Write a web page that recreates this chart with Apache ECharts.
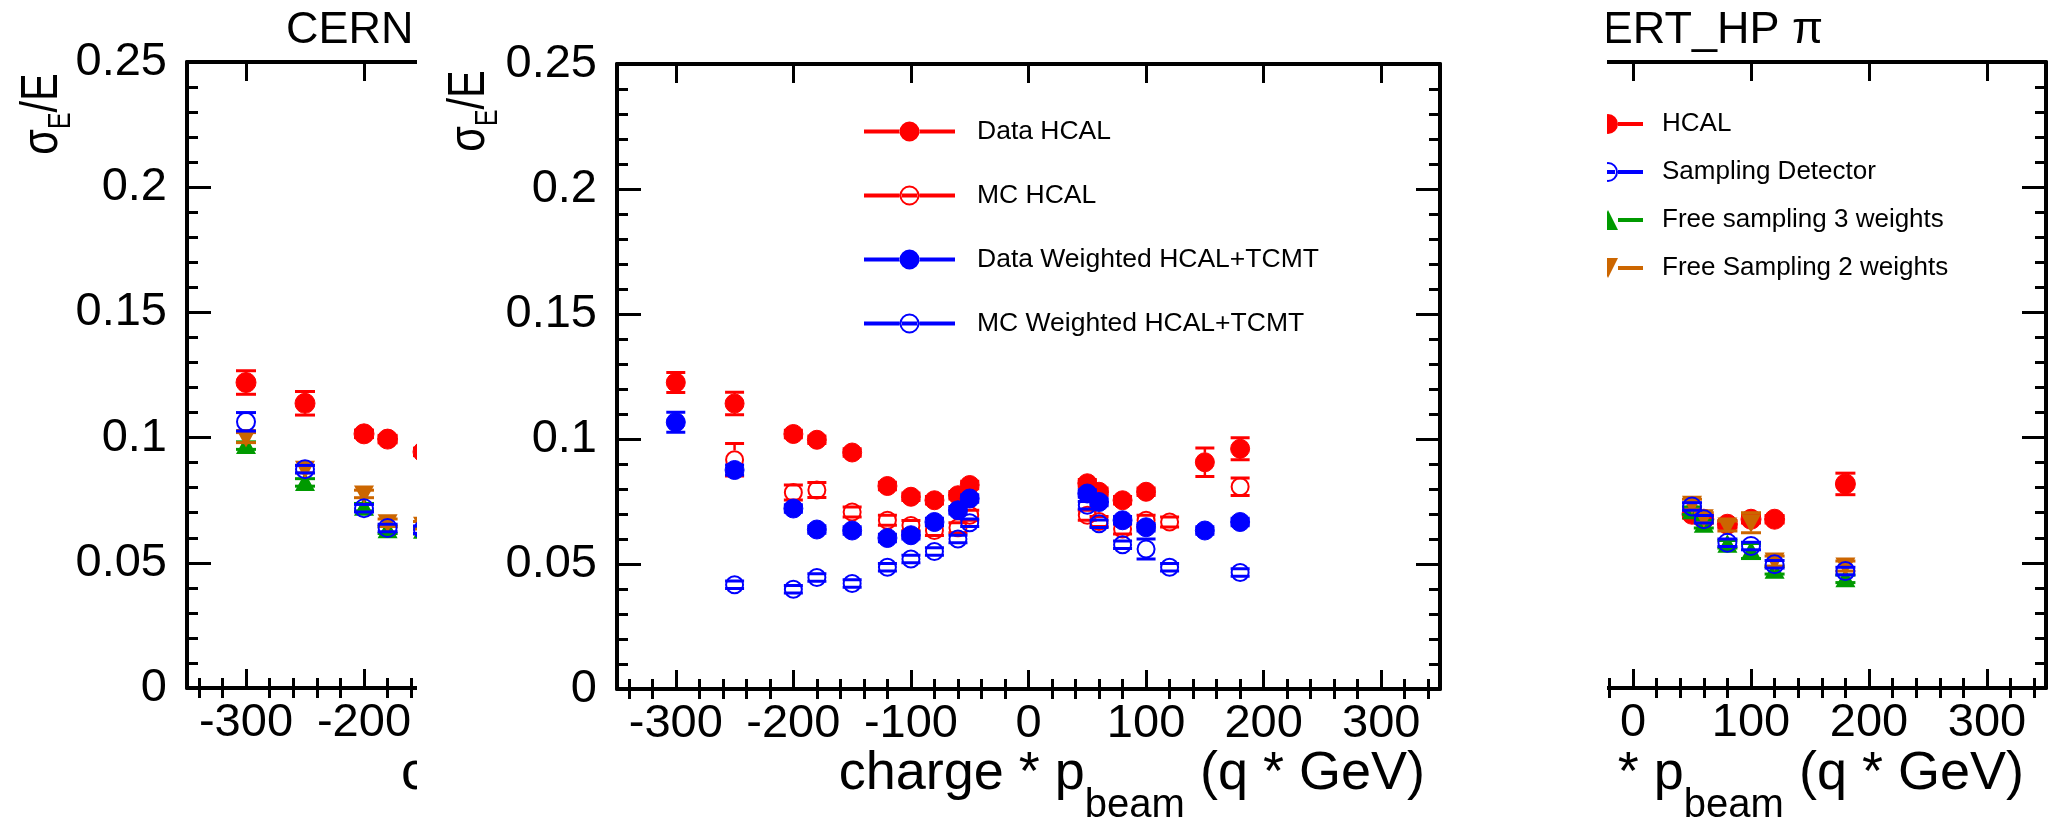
<!DOCTYPE html>
<html>
<head>
<meta charset="utf-8">
<script src="https://cdn.jsdelivr.net/npm/echarts@6/dist/echarts.min.js"></script>
<style>
  html, body { margin: 0; padding: 0; background: #fff; }
  #chart { width: 2054px; height: 823px; }
</style>
</head>
<body>
<div id="chart"></div>
<script>
// Energy resolution sigma_E/E versus signed beam momentum.

// ---- axes ----
const xRange = [-350, 350];
const xMajorTicks = [-300, -200, -100, 0, 100, 200, 300];
const xMinorTicks = [-340, -320, -280, -260, -240, -220, -180, -160, -140, -120, -80, -60, -40, -20,
                     20, 40, 60, 80, 120, 140, 160, 180, 220, 240, 260, 280, 320, 340];
const yRange = [0, 0.25];
const yStep = 0.05;

const panelTitle = 'CERN FTFP_BERT_HP π';

// ---- pi- panel (left): [charge*p, sigma/E, error] ----
const leftHcal     = [[-300, 0.1220, 0.0047], [-250, 0.1137, 0.0047], [-200, 0.1015, 0.0015], [-180, 0.0994, 0.0015], [-150, 0.0943, 0.0015]];
const leftSampling = [[-300, 0.1063, 0.0037], [-250, 0.0874, 0.0015], [-200, 0.0718, 0.0015], [-180, 0.0639, 0.0015], [-150, 0.0632, 0.0015]];
const leftFree3    = [[-300, 0.0968, 0.0015], [-250, 0.0821, 0.0015], [-200, 0.0722, 0.0015], [-180, 0.0632, 0.0015], [-150, 0.0630, 0.0015]];
const leftFree2    = [[-300, 0.1000, 0.0020], [-250, 0.0874, 0.0015], [-200, 0.0775, 0.0015], [-180, 0.0660, 0.0015], [-150, 0.0650, 0.0015]];

// ---- pi+ panel (right) ----
const rightHcal     = [[50, 0.0694, 0.0015], [60, 0.0674, 0.0015], [80, 0.0654, 0.0015], [100, 0.0674, 0.0015], [120, 0.0674, 0.0015], [180, 0.0815, 0.0043]];
const rightSampling = [[50, 0.0725, 0.0015], [60, 0.0674, 0.0015], [80, 0.0580, 0.0015], [100, 0.0567, 0.0015], [120, 0.0494, 0.0015], [180, 0.0467, 0.0015]];
const rightFree3    = [[50, 0.0708, 0.0015], [60, 0.0654, 0.0015], [80, 0.0574, 0.0015], [100, 0.0547, 0.0030], [120, 0.0470, 0.0015], [180, 0.0436, 0.0015]];
const rightFree2    = [[50, 0.0734, 0.0020], [60, 0.0680, 0.0020], [80, 0.0647, 0.0020], [100, 0.0660, 0.0040], [120, 0.0507, 0.0020], [180, 0.0487, 0.0020]];

// ---- HCAL / HCAL+TCMT comparison panel ----
const midDataHcal = [[-300, 0.1226, 0.0040], [-250, 0.1142, 0.0045], [-200, 0.1020, 0.0015], [-180, 0.0997, 0.0015],
                     [-150, 0.0946, 0.0015], [-120, 0.0812, 0.0015], [-100, 0.0769, 0.0015], [-80, 0.0755, 0.0015],
                     [-60, 0.0775, 0.0015], [-50, 0.0816, 0.0015], [50, 0.0823, 0.0015], [60, 0.0789, 0.0015],
                     [80, 0.0755, 0.0015], [100, 0.0789, 0.0015], [150, 0.0907, 0.0057], [180, 0.0961, 0.0044]];
const midMcHcal   = [[-250, 0.0917, 0.0065], [-200, 0.0786, 0.0030], [-180, 0.0796, 0.0030], [-150, 0.0708, 0.0020],
                     [-120, 0.0675, 0.0020], [-100, 0.0654, 0.0020], [-80, 0.0634, 0.0020], [-60, 0.0645, 0.0020],
                     [-50, 0.0695, 0.0020], [50, 0.0695, 0.0020], [60, 0.0670, 0.0020], [80, 0.0640, 0.0020],
                     [100, 0.0675, 0.0020], [120, 0.0668, 0.0020], [180, 0.0809, 0.0035]];
const midDataWeighted = [[-300, 0.1067, 0.0040], [-250, 0.0876, 0.0020], [-200, 0.0722, 0.0015], [-180, 0.0638, 0.0015],
                         [-150, 0.0634, 0.0015], [-120, 0.0604, 0.0015], [-100, 0.0615, 0.0015], [-80, 0.0668, 0.0015],
                         [-60, 0.0715, 0.0015], [-50, 0.0762, 0.0015], [50, 0.0782, 0.0015], [60, 0.0748, 0.0015],
                         [80, 0.0675, 0.0015], [100, 0.0647, 0.0015], [150, 0.0634, 0.0015], [180, 0.0668, 0.0015]];
const midMcWeighted   = [[-250, 0.0417, 0.0015], [-200, 0.0399, 0.0015], [-180, 0.0446, 0.0015], [-150, 0.0422, 0.0015],
                         [-120, 0.0487, 0.0015], [-100, 0.0520, 0.0015], [-80, 0.0550, 0.0015], [-60, 0.0600, 0.0015],
                         [-50, 0.0665, 0.0015], [50, 0.0735, 0.0015], [60, 0.0661, 0.0015], [80, 0.0577, 0.0015],
                         [100, 0.0560, 0.0040], [120, 0.0487, 0.0015], [180, 0.0466, 0.0015]];

const RED = '#ff0000', BLUE = '#0000ff', GREEN = '#009a00', ORANGE = '#cc6600';
const fontFamily = '"Liberation Sans", Arial, Helvetica, sans-serif';

// ---- marker + error bar drawing (ROOT style) ----
function markerShape(shape, cx, cy, r, color) {
  if (shape === 'disc') {
    return { type: 'circle', shape: { cx, cy, r }, style: { fill: color, stroke: color, lineWidth: 1 } };
  }
  if (shape === 'ring') {
    return { type: 'circle', shape: { cx, cy, r: r - 1 }, style: { fill: 'none', stroke: color, lineWidth: 2 } };
  }
  const h = r * 0.85;
  const pts = shape === 'up'
    ? [[cx - r, cy + h], [cx + r, cy + h], [cx, cy - r]]
    : [[cx - r, cy - h], [cx + r, cy - h], [cx, cy + r]];
  return { type: 'polygon', shape: { points: pts }, style: { fill: color } };
}

function errorMarkerRenderer(shape, color, r) {
  return function (params, api) {
    const x = api.value(0), y = api.value(1), e = api.value(2);
    const c = api.coord([x, y]);
    const yt = api.coord([x, y + e])[1];
    const yb = api.coord([x, y - e])[1];
    const seg = (x1, y1, x2, y2, w) => ({ type: 'line', shape: { x1, y1, x2, y2 }, style: { stroke: color, lineWidth: w } });
    const children = [];
    if (c[1] - yt > r) children.push(seg(c[0], yt, c[0], c[1] - r, 2.5));
    if (yb - c[1] > r) children.push(seg(c[0], c[1] + r, c[0], yb, 2.5));
    children.push(seg(c[0] - r, yt, c[0] + r, yt, 3));
    children.push(seg(c[0] - r, yb, c[0] + r, yb, 3));
    children.push(markerShape(shape, c[0], c[1], r, color));
    return { type: 'group', children };
  };
}

function errSeries(name, data, shape, color, r, gridIdx, z) {
  return {
    type: 'custom', name, data,
    xAxisIndex: gridIdx * 4, yAxisIndex: gridIdx * 2,
    encode: { x: 0, y: 1 },
    itemStyle: { color },
    z, silent: true, clip: false,
    renderItem: errorMarkerRenderer(shape, color, r)
  };
}

// ---- axes: ticks on all four sides, pointing inward ----
const tickLine = { color: '#000', width: 3 };
const labelSize = 47;
function xAxesFor(gridIndex, z) {
  const base = { type: 'value', gridIndex, min: xRange[0], max: xRange[1], splitLine: { show: false }, z };
  const line = { show: true, onZero: false, lineStyle: { color: '#000', width: 4 } };
  const major = { show: true, inside: true, length: 19, customValues: xMajorTicks, lineStyle: tickLine };
  const minor = { show: true, inside: true, length: 10, customValues: xMinorTicks, lineStyle: tickLine };
  return [
    Object.assign({}, base, { position: 'bottom', axisLine: line, axisTick: major,
      axisLabel: { show: true, customValues: xMajorTicks, margin: 12, fontSize: labelSize, color: '#000', fontFamily } }),
    Object.assign({}, base, { position: 'bottom', axisLine: { show: false }, axisTick: minor, axisLabel: { show: false } }),
    Object.assign({}, base, { position: 'top', axisLine: line, axisTick: major, axisLabel: { show: false } }),
    Object.assign({}, base, { position: 'top', axisLine: { show: false }, axisTick: minor, axisLabel: { show: false } })
  ];
}
function yAxesFor(gridIndex, z) {
  const base = {
    type: 'value', gridIndex, min: yRange[0], max: yRange[1], interval: yStep, z,
    axisLine: { show: true, onZero: false, lineStyle: { color: '#000', width: 4 } },
    axisTick: { show: true, inside: true, length: 24, lineStyle: tickLine },
    minorTick: { show: true, splitNumber: 5, length: 11, lineStyle: tickLine },
    splitLine: { show: false }, minorSplitLine: { show: false }
  };
  return [
    Object.assign({}, base, { position: 'left',
      axisLabel: { margin: 20, fontSize: labelSize, color: '#000', fontFamily,
                   formatter: v => String(Math.round(v * 100) / 100) } }),
    Object.assign({}, base, { position: 'right', axisLabel: { show: false } })
  ];
}

// ---- legend icons: line with marker in the middle ----
const iconMid = {
  disc: 'path://M0,8H36V12H0Z M55,8H91V12H55Z M35.5,10A10,10,0,1,0,55.5,10A10,10,0,1,0,35.5,10Z',
  ring: 'path://M35.5,10A10,10,0,1,1,55.5,10A10,10,0,1,1,35.5,10Z M37.5,10A8,8,0,1,0,53.5,10A8,8,0,1,0,37.5,10Z M0,8H35.5V12H0Z M55.5,8H91V12H55.5Z M38,8H53V12H38Z'
};
const iconRight = {
  disc: 'path://M0,8H25V12H0Z M45,8H70V12H45Z M25,10A10,10,0,1,0,45,10A10,10,0,1,0,25,10Z',
  ring: 'path://M25,10A10,10,0,1,1,45,10A10,10,0,1,1,25,10Z M27,10A8,8,0,1,0,43,10A8,8,0,1,0,27,10Z M0,8H25V12H0Z M45,8H70V12H45Z M28,8H42V12H28Z',
  up: 'path://M0,8H25V12H0Z M45,8H70V12H45Z M25,20L45,20L35,0Z',
  down: 'path://M0,8H25V12H0Z M45,8H70V12H45Z M25,0L45,0L35,20Z'
};

// ---- axis titles with subscripts ----
function xTitle(x, y, align, z) {
  return {
    type: 'text', x, y, z,
    style: {
      text: '{m|charge * p}{s|beam}{m| (q * GeV)}',
      rich: {
        m: { fontSize: 54, fontFamily, lineHeight: 104 },
        s: { fontSize: 40, fontFamily, lineHeight: 20, verticalAlign: 'bottom' }
      },
      fill: '#000', align, textAlign: align, verticalAlign: 'middle', textVerticalAlign: 'middle'
    }
  };
}
function yTitle(x, y, z) {
  return {
    type: 'text', x, y, z, rotation: Math.PI / 2, scaleX: 0.8, scaleY: 1,
    style: {
      text: '{m|σ}{s|E}{m|/E}',
      rich: {
        m: { fontSize: 52, fontFamily, lineHeight: 68 },
        s: { fontSize: 31, fontFamily, lineHeight: 20, verticalAlign: 'bottom' }
      },
      fill: '#000', align: 'center', textAlign: 'center', verticalAlign: 'middle', textVerticalAlign: 'middle'
    }
  };
}

const chart = echarts.init(document.getElementById('chart'), null, { renderer: 'canvas' });

const MID_Z = 60;
chart.setOption({
  animation: false,
  backgroundColor: '#fff',
  textStyle: { fontFamily },
  grid: [
    { left: 187, top: 62, width: 826, height: 626, outerBoundsMode: 'none' },
    { left: 1220, top: 62, width: 826, height: 626, outerBoundsMode: 'none' },
    { left: 617, top: 64, width: 823, height: 625, outerBoundsMode: 'none', z: MID_Z }
  ],
  xAxis: [].concat(xAxesFor(0, 0), xAxesFor(1, 0), xAxesFor(2, MID_Z)),
  yAxis: [].concat(yAxesFor(0, 0), yAxesFor(1, 0), yAxesFor(2, MID_Z)),
  legend: [
    {
      orient: 'vertical', left: 864, top: 118, padding: 0, itemGap: 37,
      itemWidth: 91, itemHeight: 20, selectedMode: false, z: 80,
      textStyle: { fontSize: 26.5, color: '#000', fontFamily, padding: [0, 0, 0, 17] },
      data: [
        { name: 'Data HCAL', icon: iconMid.disc },
        { name: 'MC HCAL', icon: iconMid.ring },
        { name: 'Data Weighted HCAL+TCMT', icon: iconMid.disc },
        { name: 'MC Weighted HCAL+TCMT', icon: iconMid.ring }
      ]
    },
    {
      orient: 'vertical', left: 1573, top: 111, padding: 0, itemGap: 22,
      itemWidth: 70, itemHeight: 20, selectedMode: false, z: 4,
      textStyle: { fontSize: 26, color: '#000', fontFamily, padding: [0, 0, 0, 14] },
      data: [
        { name: 'HCAL', icon: iconRight.disc },
        { name: 'Sampling Detector', icon: iconRight.ring },
        { name: 'Free sampling 3 weights', icon: iconRight.up },
        { name: 'Free Sampling 2 weights', icon: iconRight.down }
      ]
    }
  ],
  graphic: [
    { type: 'text', x: 286, y: 31, z: 1,
      style: { text: panelTitle, fontSize: 45, fontFamily, fill: '#000', align: 'left', textAlign: 'left', verticalAlign: 'middle', textVerticalAlign: 'middle' } },
    { type: 'text', x: 1823, y: 31, z: 1,
      style: { text: panelTitle, fontSize: 45, fontFamily, fill: '#000', align: 'right', textAlign: 'right', verticalAlign: 'middle', textVerticalAlign: 'middle' } },
    xTitle(401, 774, 'left', 1),
    xTitle(2024, 774, 'right', 1),
    yTitle(43, 114, 1),
    { type: 'rect', shape: { x: 417, y: 0, width: 1190, height: 823 }, style: { fill: '#fff' }, z: 50 },
    xTitle(1425, 774, 'right', 80),
    yTitle(470, 111, 80)
  ],
  series: [
    errSeries('HCAL', leftHcal, 'disc', RED, 10, 0, 2),
    errSeries('Free sampling 3 weights', leftFree3, 'up', GREEN, 10, 0, 3),
    errSeries('Free Sampling 2 weights', leftFree2, 'down', ORANGE, 10, 0, 4),
    errSeries('Sampling Detector', leftSampling, 'ring', BLUE, 10, 0, 5),

    errSeries('HCAL', rightHcal, 'disc', RED, 10, 1, 2),
    errSeries('Free sampling 3 weights', rightFree3, 'up', GREEN, 10, 1, 3),
    errSeries('Free Sampling 2 weights', rightFree2, 'down', ORANGE, 10, 1, 4),
    errSeries('Sampling Detector', rightSampling, 'ring', BLUE, 10, 1, 5),

    errSeries('Data HCAL', midDataHcal, 'disc', RED, 9.5, 2, 70),
    errSeries('MC HCAL', midMcHcal, 'ring', RED, 9.5, 2, 71),
    errSeries('Data Weighted HCAL+TCMT', midDataWeighted, 'disc', BLUE, 9.5, 2, 72),
    errSeries('MC Weighted HCAL+TCMT', midMcWeighted, 'ring', BLUE, 9.5, 2, 73)
  ]
});
</script>
</body>
</html>
